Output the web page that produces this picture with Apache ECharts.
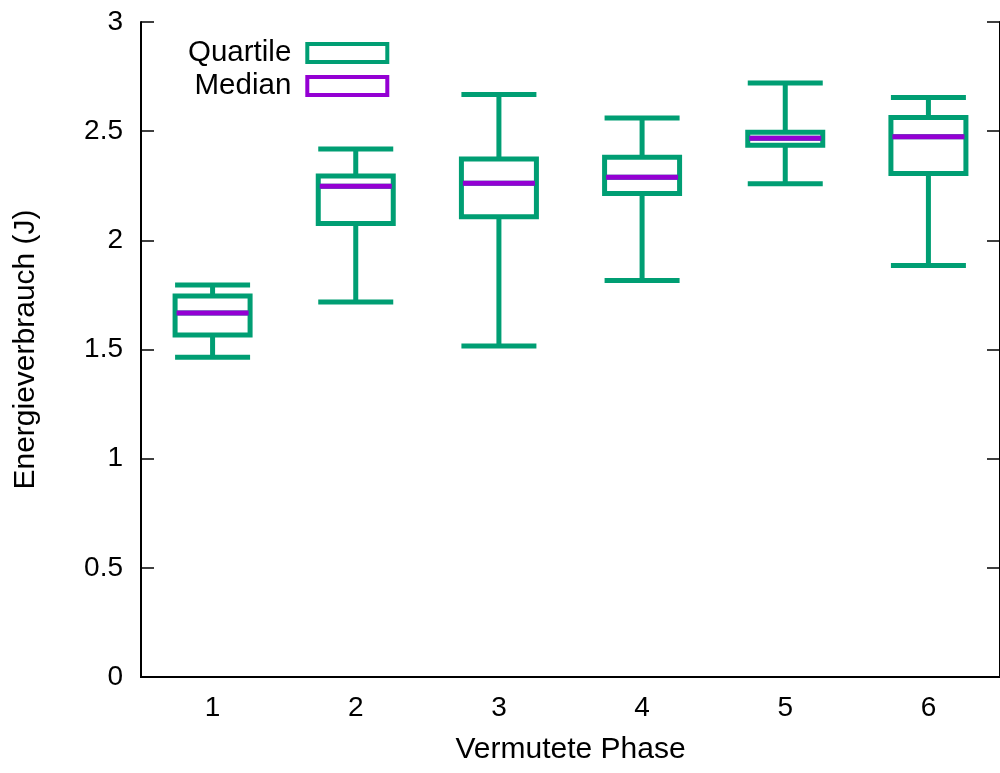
<!DOCTYPE html>
<html>
<head>
<meta charset="utf-8">
<script src="https://cdn.jsdelivr.net/npm/echarts@6/dist/echarts.min.js"></script>
<style>
  html, body { margin: 0; padding: 0; background: #fff; }
  #chart { width: 1000px; height: 773px; }
</style>
</head>
<body>
<div id="chart"></div>
<script>
var phases = ["1", "2", "3", "4", "5", "6"];
// [min, Q1, median, Q3, max]
var quartiles = [
  [1.465, 1.566, 1.667, 1.745, 1.795],
  [1.717, 2.077, 2.248, 2.295, 2.418],
  [1.516, 2.108, 2.261, 2.373, 2.668],
  [1.816, 2.215, 2.289, 2.381, 2.560],
  [2.259, 2.436, 2.467, 2.495, 2.721],
  [1.885, 2.306, 2.474, 2.563, 2.654]
];
var medians = [1.667, 2.248, 2.261, 2.289, 2.467, 2.474];

var green = '#009e73';
var purple = '#9400d3';
var font = 'Liberation Sans, Arial, sans-serif';

// median drawn as a flat boxplot so it sits on the same band as the quartile box
var medianBoxes = [];
for (let i = 0; i < medians.length; i++) {
  var m = medians[i];
  medianBoxes.push([m, m, m, m, m]);
}

var chart = echarts.init(document.getElementById('chart'));

var option = {
  animation: false,
  backgroundColor: '#fff',
  textStyle: { fontFamily: font },
  grid: {
    left: 141,
    top: 22,
    width: 868,
    bottom: 96
  },
  legend: {
    orient: 'vertical',
    align: 'right',
    left: 183,
    top: 33,
    itemWidth: 80,
    itemHeight: 18,
    itemGap: 3,
    textStyle: { fontSize: 29.5, color: '#000', fontFamily: font, padding: [0, 11, 0, 0] },
    data: [
      { name: 'Quartile', icon: 'rect', itemStyle: { color: '#fff', borderColor: green, borderWidth: 4 } },
      { name: 'Median', icon: 'rect', itemStyle: { color: '#fff', borderColor: purple, borderWidth: 4 } }
    ]
  },
  xAxis: [
    {
      type: 'category',
      data: phases,
      name: 'Vermutete Phase',
      nameLocation: 'middle',
      nameGap: 58,
      nameTextStyle: { fontSize: 30, color: '#000', fontFamily: font },
      axisLine: { lineStyle: { color: '#000', width: 2 } },
      axisTick: { inside: true, alignWithLabel: true, length: 13, lineStyle: { color: '#000', width: 1.5 } },
      axisLabel: { fontSize: 28, color: '#000', margin: 17, fontFamily: font },
      splitLine: { show: false }
    },
    {
      type: 'category',
      data: phases,
      position: 'top',
      axisLine: { lineStyle: { color: '#000', width: 2 } },
      axisTick: { inside: true, alignWithLabel: true, length: 13, lineStyle: { color: '#000', width: 1.5 } },
      axisLabel: { show: false },
      splitLine: { show: false }
    }
  ],
  yAxis: [
    {
      type: 'value',
      min: 0,
      max: 3,
      interval: 0.5,
      name: 'Energieverbrauch (J)',
      nameLocation: 'middle',
      nameRotate: 90,
      nameGap: 100,
      nameTextStyle: { fontSize: 30, color: '#000', fontFamily: font },
      axisLine: { show: true, lineStyle: { color: '#000', width: 2 } },
      axisTick: { show: true, inside: true, length: 13, lineStyle: { color: '#000', width: 1.5 } },
      axisLabel: { fontSize: 28, color: '#000', margin: 18, fontFamily: font },
      splitLine: { show: false }
    },
    {
      type: 'value',
      min: 0,
      max: 3,
      interval: 0.5,
      position: 'right',
      axisLine: { show: true, lineStyle: { color: '#000', width: 2 } },
      axisTick: { show: true, inside: true, length: 13, lineStyle: { color: '#000', width: 1.5 } },
      axisLabel: { show: false },
      splitLine: { show: false }
    }
  ],
  series: [
    {
      name: 'Quartile',
      type: 'boxplot',
      data: quartiles,
      boxWidth: [75, 75],
      itemStyle: { color: '#fff', borderColor: green, borderWidth: 5 },
      z: 2
    },
    {
      name: 'Median',
      type: 'boxplot',
      xAxisIndex: 1,
      data: medianBoxes,
      boxWidth: [72, 72],
      itemStyle: { color: purple, borderColor: purple, borderWidth: 5 },
      z: 3
    }
  ]
};

chart.setOption(option);
</script>
</body>
</html>
